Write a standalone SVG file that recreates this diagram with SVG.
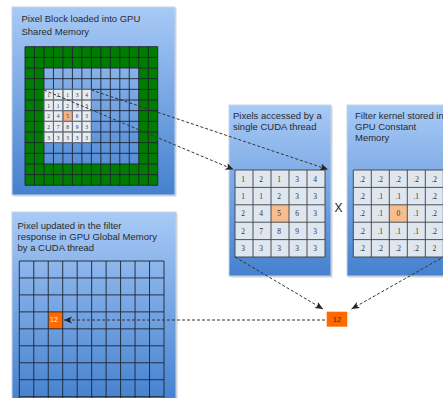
<svg xmlns="http://www.w3.org/2000/svg" width="443" height="398" viewBox="0 0 443 398">
<style>
.title{font-family:"Liberation Sans",Arial,sans-serif;font-size:9.5px;fill:#2a2a2a}
.cell{font-family:"Liberation Serif","Times New Roman",serif;font-size:7.5px;fill:#333;text-anchor:middle}
.tiny{font-family:"Liberation Serif","Times New Roman",serif;font-size:5.5px;fill:#333;text-anchor:middle}
.panel{fill:url(#pg);stroke:#c3d3e6;stroke-width:1}
.shadow{fill:#9a9a9a;opacity:0.45}
.gl{fill:none;stroke:#1d2430;stroke-width:0.9}
.tl{fill:none;stroke:#3a3f46;stroke-width:0.9}
.conn{fill:none;stroke:#333;stroke-width:1;stroke-dasharray:3,2}
</style>
<defs>
<linearGradient id="pg" x1="0" y1="0" x2="0" y2="1">
<stop offset="0" stop-color="#a8caf6"/>
<stop offset="1" stop-color="#4581cf"/>
</linearGradient>
<marker id="ah" markerUnits="userSpaceOnUse" markerWidth="9" markerHeight="8" refX="8" refY="3.5" orient="auto">
<path d="M0,0 L8,3.5 L0,7 L2,3.5 Z" fill="#222"/>
</marker>
</defs>

<g id="shared-memory">
<rect class="shadow" x="13.5" y="8.5" width="163" height="188"/>
<rect class="panel" x="12" y="7" width="163" height="188"/>
<text class="title" x="21.5" y="22">Pixel Block loaded into GPU</text>
<text class="title" x="21.5" y="35">Shared Memory</text>
<path d="M25,46.7 h132.7 v138.6 h-132.7 Z M43.96,68.02 v95.94 h94.8 v-95.94 Z" fill="#007d00" fill-rule="evenodd"/>
<rect x="43.96" y="89.34" width="47.4" height="53.3" fill="#e7ecf2"/>
<rect x="62.92" y="110.66" width="9.48" height="10.66" fill="#f5b384"/>
<path class="gl" d="M25,46.7 V185.3 M34.48,46.7 V185.3 M43.96,46.7 V185.3 M53.44,46.7 V185.3 M62.92,46.7 V185.3 M72.4,46.7 V185.3 M81.88,46.7 V185.3 M91.36,46.7 V185.3 M100.84,46.7 V185.3 M110.32,46.7 V185.3 M119.8,46.7 V185.3 M129.28,46.7 V185.3 M138.76,46.7 V185.3 M148.24,46.7 V185.3 M157.72,46.7 V185.3
M25,46.7 H157.72 M25,57.36 H157.72 M25,68.02 H157.72 M25,78.68 H157.72 M25,89.34 H157.72 M25,100 H157.72 M25,110.66 H157.72 M25,121.32 H157.72 M25,131.98 H157.72 M25,142.64 H157.72 M25,153.3 H157.72 M25,163.96 H157.72 M25,174.62 H157.72 M25,185.28 H157.72"/>
<path d="M43.96,89.34 h47.4 v53.3 h-47.4 Z M53.44,89.34 V142.64 M62.92,89.34 V142.64 M72.4,89.34 V142.64 M81.88,89.34 V142.64 M43.96,100 H91.36 M43.96,110.66 H91.36 M43.96,121.32 H91.36 M43.96,131.98 H91.36" fill="none" stroke="#8a929c" stroke-width="0.6"/>
<text class="tiny" x="48.7" y="97">1</text><text class="tiny" x="58.2" y="97">2</text><text class="tiny" x="67.7" y="97">1</text><text class="tiny" x="77.1" y="97">3</text><text class="tiny" x="86.6" y="97">4</text>
<text class="tiny" x="48.7" y="107.6">1</text><text class="tiny" x="58.2" y="107.6">1</text><text class="tiny" x="67.7" y="107.6">2</text><text class="tiny" x="77.1" y="107.6">3</text><text class="tiny" x="86.6" y="107.6">3</text>
<text class="tiny" x="48.7" y="118.3">2</text><text class="tiny" x="58.2" y="118.3">4</text><text class="tiny" x="67.7" y="118.3">5</text><text class="tiny" x="77.1" y="118.3">6</text><text class="tiny" x="86.6" y="118.3">3</text>
<text class="tiny" x="48.7" y="129">2</text><text class="tiny" x="58.2" y="129">7</text><text class="tiny" x="67.7" y="129">8</text><text class="tiny" x="77.1" y="129">9</text><text class="tiny" x="86.6" y="129">3</text>
<text class="tiny" x="48.7" y="139.6">3</text><text class="tiny" x="58.2" y="139.6">3</text><text class="tiny" x="67.7" y="139.6">3</text><text class="tiny" x="77.1" y="139.6">3</text><text class="tiny" x="86.6" y="139.6">3</text>
</g>

<g id="thread-pixels">
<rect class="shadow" x="230.5" y="106.5" width="102" height="171"/>
<rect class="panel" x="229" y="105" width="102" height="171"/>
<text class="title" x="233" y="119">Pixels accessed by a</text>
<text class="title" x="233" y="130">single CUDA thread</text>
<rect x="235" y="170" width="90" height="87" fill="#e0e6ee"/>
<rect x="271" y="204.8" width="18" height="17.4" fill="#f7bd8f"/>
<path class="tl" d="M235,170 h90 v87 h-90 Z M253,170 V257 M271,170 V257 M289,170 V257 M307,170 V257 M235,187.4 H325 M235,204.8 H325 M235,222.2 H325 M235,239.6 H325"/>
<text class="cell" x="243" y="181.5">1</text><text class="cell" x="261" y="181.5">2</text><text class="cell" x="279" y="181.5">1</text><text class="cell" x="297" y="181.5">3</text><text class="cell" x="315" y="181.5">4</text>
<text class="cell" x="243" y="198.9">1</text><text class="cell" x="261" y="198.9">1</text><text class="cell" x="279" y="198.9">2</text><text class="cell" x="297" y="198.9">3</text><text class="cell" x="315" y="198.9">3</text>
<text class="cell" x="243" y="216.3">2</text><text class="cell" x="261" y="216.3">4</text><text class="cell" x="279" y="216.3">5</text><text class="cell" x="297" y="216.3">6</text><text class="cell" x="315" y="216.3">3</text>
<text class="cell" x="243" y="233.7">2</text><text class="cell" x="261" y="233.7">7</text><text class="cell" x="279" y="233.7">8</text><text class="cell" x="297" y="233.7">9</text><text class="cell" x="315" y="233.7">3</text>
<text class="cell" x="243" y="251.1">3</text><text class="cell" x="261" y="251.1">3</text><text class="cell" x="279" y="251.1">3</text><text class="cell" x="297" y="251.1">3</text><text class="cell" x="315" y="251.1">3</text>
</g>

<g id="times">
<text x="338.5" y="212" font-family="Liberation Sans, Arial, sans-serif" font-size="12" fill="#222" text-anchor="middle">X</text>
</g>

<g id="filter-kernel">
<rect class="shadow" x="348.5" y="106.5" width="100" height="171"/>
<rect class="panel" x="347" y="105" width="100" height="171"/>
<text class="title" x="355" y="118.5">Filter kernel stored in</text>
<text class="title" x="355" y="129.5">GPU Constant</text>
<text class="title" x="355" y="140.5">Memory</text>
<rect x="353.3" y="170" width="90" height="87" fill="#e0e6ee"/>
<rect x="389.3" y="204.8" width="18" height="17.4" fill="#f7bd8f"/>
<path class="tl" d="M353.3,170 h90 v87 h-90 Z M371.3,170 V257 M389.3,170 V257 M407.3,170 V257 M425.3,170 V257 M353.3,187.4 H443.3 M353.3,204.8 H443.3 M353.3,222.2 H443.3 M353.3,239.6 H443.3"/>
<text class="cell" x="362.3" y="181.5">.2</text><text class="cell" x="380.3" y="181.5">.2</text><text class="cell" x="398.3" y="181.5">.2</text><text class="cell" x="416.3" y="181.5">.2</text><text class="cell" x="434.3" y="181.5">.2</text>
<text class="cell" x="362.3" y="198.9">.2</text><text class="cell" x="380.3" y="198.9">.1</text><text class="cell" x="398.3" y="198.9">.1</text><text class="cell" x="416.3" y="198.9">.1</text><text class="cell" x="434.3" y="198.9">.2</text>
<text class="cell" x="362.3" y="216.3">.2</text><text class="cell" x="380.3" y="216.3">.1</text><text class="cell" x="398.3" y="216.3">0</text><text class="cell" x="416.3" y="216.3">.1</text><text class="cell" x="434.3" y="216.3">.2</text>
<text class="cell" x="362.3" y="233.7">.2</text><text class="cell" x="380.3" y="233.7">.1</text><text class="cell" x="398.3" y="233.7">.1</text><text class="cell" x="416.3" y="233.7">.1</text><text class="cell" x="434.3" y="233.7">.2</text>
<text class="cell" x="362.3" y="251.1">.2</text><text class="cell" x="380.3" y="251.1">.2</text><text class="cell" x="398.3" y="251.1">.2</text><text class="cell" x="416.3" y="251.1">.2</text><text class="cell" x="434.3" y="251.1">2</text>
</g>

<g id="global-memory">
<rect class="shadow" x="13.5" y="213.5" width="164" height="190"/>
<rect class="panel" x="12" y="212" width="164" height="190"/>
<text class="title" x="17.5" y="228.5">Pixel updated in the filter</text>
<text class="title" x="17.5" y="239.5">response in GPU Global Memory</text>
<text class="title" x="17.5" y="250.5">by a CUDA thread</text>
<rect x="48.24" y="311.88" width="14.47" height="16.96" fill="#ff6a00"/>
<path class="gl" d="M19.3,261 V400 M33.77,261 V400 M48.24,261 V400 M62.71,261 V400 M77.18,261 V400 M91.65,261 V400 M106.12,261 V400 M120.59,261 V400 M135.06,261 V400 M149.53,261 V400 M164,261 V400
M19.3,261 H164 M19.3,277.96 H164 M19.3,294.92 H164 M19.3,311.88 H164 M19.3,328.84 H164 M19.3,345.8 H164 M19.3,362.76 H164 M19.3,379.72 H164 M19.3,396.68 H164"/>
<text x="50" y="321.5" font-family="Liberation Sans, Arial, sans-serif" font-size="7" fill="#fff3e6">12</text>
</g>

<g id="result">
<rect x="326.7" y="311.7" width="20.6" height="15" fill="#ff6a00"/>
<text x="337" y="322" font-family="Liberation Sans, Arial, sans-serif" font-size="7.5" fill="#333" text-anchor="middle">12</text>
</g>

<g id="connectors">
<line class="conn" x1="91.4" y1="90" x2="328" y2="169.5" marker-end="url(#ah)"/>
<line class="conn" x1="44" y1="90" x2="233.5" y2="169.5" marker-end="url(#ah)"/>
<line class="conn" x1="235" y1="257" x2="323" y2="309" marker-end="url(#ah)"/>
<line class="conn" x1="445" y1="256" x2="351.5" y2="309" marker-end="url(#ah)"/>
<line class="conn" x1="325" y1="320" x2="64" y2="320" marker-end="url(#ah)"/>
</g>
</svg>
